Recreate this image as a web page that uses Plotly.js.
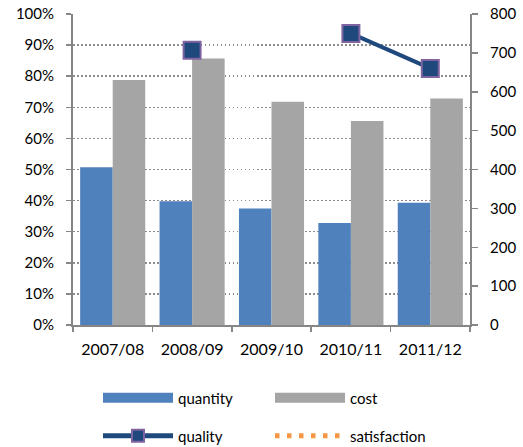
<!DOCTYPE html>
<html><head><meta charset="utf-8">
<script src="https://cdn.plot.ly/plotly-3.0.1.min.js"></script>
<style>html,body{margin:0;padding:0;background:#fff}#chart{width:523px;height:447px}</style>
</head><body><div id="chart"></div>
<script>
var categories = ['2007/08','2008/09','2009/10','2010/11','2011/12'];
var quantity = [0.507, 0.398, 0.375, 0.328, 0.393];
var cost = [0.788, 0.857, 0.718, 0.656, 0.728];
var quality = [null, 707, null, 750, 660];
var satisfaction = [null, null, null, null, null];

var blue = '#4F81BD', gray = '#A5A5A5', navy = '#1F497D', purple = '#8064A2', orange = '#F79646';
var font = {family: 'Lato, "Open Sans", sans-serif', size: 15, color: '#000'};
var xfont = {family: 'Lato, "Open Sans", sans-serif', size: 16, color: '#000'};

var traces = [
  {type:'bar', x:categories, y:quantity, name:'quantity', marker:{color:blue}, showlegend:false, hoverinfo:'skip'},
  {type:'bar', x:categories, y:cost, name:'cost', marker:{color:gray}, showlegend:false, hoverinfo:'skip'},
  {type:'scatter', mode:'lines+markers', x:categories, y:quality, name:'quality', yaxis:'y2', connectgaps:false,
   line:{color:navy, width:4}, marker:{symbol:'square', size:17, color:navy, line:{color:purple, width:2}}, legend:'legend2'},
  {type:'scatter', mode:'lines', x:categories, y:satisfaction, name:'satisfaction', yaxis:'y2',
   line:{color:orange, width:4.5, dash:'4.5px,7.5px'}, legend:'legend2'},
  {type:'scatter', mode:'lines', x:[null], y:[null], name:'quantity', line:{color:blue, width:10}, legend:'legend'},
  {type:'scatter', mode:'lines', x:[null], y:[null], name:'cost', line:{color:gray, width:10}, legend:'legend'}
];

var layout = {
  width:523, height:447,
  margin:{l:73, r:53, t:14, b:122, autoexpand:false},
  paper_bgcolor:'#fff', plot_bgcolor:'#fff',
  font:font,
  barmode:'group', bargap:0.18, bargroupgap:0,
  xaxis:{type:'category', showline:true, linecolor:'#868686', linewidth:2, ticks:'outside', tickson:'boundaries',
         ticklen:5, tickcolor:'#868686', tickwidth:1.5, showgrid:false, tickfont:xfont, zeroline:false, ticklabelstandoff:9},
  yaxis:{range:[0,1], dtick:0.1, tickformat:'.0%', showline:true, linecolor:'#868686', linewidth:2,
         ticks:'outside', ticklen:5, tickcolor:'#868686', tickwidth:1.5, ticklabelstandoff:9,
         showgrid:true, gridcolor:'#8c8c8c', gridwidth:1.5, griddash:'1.5px,2.5px', zeroline:false, tickfont:font},
  yaxis2:{range:[0,800], dtick:100, overlaying:'y', side:'right', showline:true, linecolor:'#868686', linewidth:2,
         ticks:'outside', ticklen:6, tickcolor:'#868686', tickwidth:1.5, ticklabelstandoff:9, showgrid:false, zeroline:false, tickfont:font},
  legend:{orientation:'h', x:0.063, xanchor:'left', y:-0.235, yanchor:'middle', itemwidth:70, entrywidth:87,
          entrywidthmode:'pixels', font:font, bgcolor:'rgba(0,0,0,0)', traceorder:'normal', itemclick:false},
  legend2:{orientation:'h', x:0.063, xanchor:'left', y:-0.357, yanchor:'middle', itemwidth:70, entrywidth:87,
          entrywidthmode:'pixels', font:font, bgcolor:'rgba(0,0,0,0)', traceorder:'normal', itemclick:false, itemsizing:'constant'}
};

Plotly.newPlot('chart', traces, layout, {staticPlot:true, displayModeBar:false});
</script></body></html>
